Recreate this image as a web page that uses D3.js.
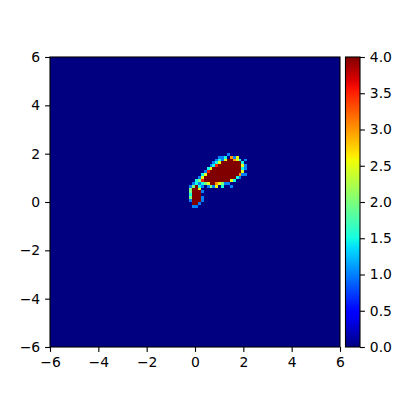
<!DOCTYPE html>
<html>
<head>
<meta charset="utf-8">
<script src="https://cdn.jsdelivr.net/npm/d3@7"></script>
<style>
  body { margin: 0; background: #fff; }
  text { font-family: "DejaVu Sans", sans-serif; fill: #000; }
</style>
</head>
<body>
<svg id="chart" width="400" height="400"></svg>
<script>
// histogram grid: 100 x 100 bins over [-6, 6]
const binCount = 100;
const extent = [-6, 6];
const ticks = [-6, -4, -2, 0, 2, 4, 6];
const cbarTicks = [0, 0.5, 1, 1.5, 2, 2.5, 3, 3.5, 4];
const vmax = 4;

// non-empty part of the grid
// first column bin index, first (top) row bin index, rows go downwards
const colStart = 47;
const rowTop = 66;
const rows = [
  [0,0,0,0,0,0,0,0,0,0,0,0,0,0,1,0,0,0,0,0,0],
  [0,0,0,0,0,0,0,0,0,0,0,1,1,1.5,0,3,1,2.5,0,0,0],
  [0,0,0,0,0,0,0,0,0,0,1,1.5,1,2.5,5,6,3,2.5,1.5,0,1],
  [0,0,0,0,0,0,0,0,0,1,1.5,2.5,4,6,7,8,7,6,4.5,1.5,0],
  [0,0,0,0,0,0,0,0,1,1.5,3.5,5,7,8,9,9,8,7,5,2.5,1],
  [0,0,0,0,0,0,0,1.5,2.5,4.5,6,8,9,9,9,9,8,7,5,1.5,1],
  [0,0,0,0,0,0,1,3.5,5,6,8,9,9,9,9,8,7,6,4.5,2.5,0],
  [0,0,0,0,0,1.5,2.5,5,6,7,8,8,9,8,8,7,6,5,3,1,1],
  [0,0,0,0,1,2.5,4,5,6,7,7,8,7,7,6,5,4.5,1.5,1,0,0],
  [0,0,0,1.5,2,3.5,4.5,5,5,6,6,5,5,4.5,4,2.5,1.5,0,0,0,0],
  [0,0,1,1.5,1,1.5,2,2.5,5,4,3,2.5,2,1,1,0,0,0,0,0,0],
  [0,1,2,5,1.5,1,0,1,2,1,2.5,0,1.5,0,0,1,0,0,0,0,0],
  [0,2,4.5,5,2.5,0,0,0,0,0,0,0,0,0,0,0,0,0,0,0,0],
  [0,2,5,6,4,1,0,0,0,0,0,0,0,0,0,0,0,0,0,0,0],
  [0,1.5,5,6,5,0,0,0,0,0,0,0,0,0,0,0,0,0,0,0,0],
  [0,2,6,5,4,1,0,0,0,0,0,0,0,0,0,0,0,0,0,0,0],
  [0,1,5,6,5,1,0,0,0,0,0,0,0,0,0,0,0,0,0,0,0],
  [0,0,4,5,1,0,0,0,0,0,0,0,0,0,0,0,0,0,0,0,0],
  [0,0,1,1,0,0,0,0,0,0,0,0,0,0,0,0,0,0,0,0,0]
];

// matplotlib "jet"
const jetR = d3.scaleLinear().domain([0, 0.35, 0.66, 0.89, 1]).range([0, 0, 1, 1, 0.5]).clamp(true);
const jetG = d3.scaleLinear().domain([0, 0.125, 0.375, 0.64, 0.91, 1]).range([0, 0, 1, 1, 0, 0]).clamp(true);
const jetB = d3.scaleLinear().domain([0, 0.11, 0.34, 0.65, 1]).range([0.5, 1, 1, 0, 0]).clamp(true);
function jet(t) {
  return d3.rgb(jetR(t) * 255, jetG(t) * 255, jetB(t) * 255).toString();
}
const color = v => jet(Math.min(v, vmax) / vmax);

// full grid of counts
const grid = [];
const binW = (extent[1] - extent[0]) / binCount;
for (let j = 0; j < binCount; j++) {
  for (let i = 0; i < binCount; i++) {
    grid.push({i: i, j: j, v: 0});
  }
}
rows.forEach((row, r) => {
  const j = rowTop - r;
  row.forEach((v, k) => {
    grid[j * binCount + colStart + k].v = v;
  });
});

const svg = d3.select('#chart');
const plotLeft = 50, plotRight = 340, plotTop = 57, plotBottom = 347;

const x = d3.scaleLinear().domain(extent).range([plotLeft, plotRight]);
const y = d3.scaleLinear().domain(extent).range([plotBottom, plotTop]);

svg.append('g')
  .attr('shape-rendering', 'crispEdges')
  .selectAll('rect')
  .data(grid)
  .join('rect')
  .attr('x', d => x(extent[0] + d.i * binW))
  .attr('y', d => y(extent[0] + (d.j + 1) * binW))
  .attr('width', d => x(extent[0] + (d.i + 1) * binW) - x(extent[0] + d.i * binW))
  .attr('height', d => y(extent[0] + d.j * binW) - y(extent[0] + (d.j + 1) * binW))
  .attr('fill', d => color(d.v));

function styleAxis(g) {
  g.select('.domain').remove();
  g.selectAll('line').attr('stroke', '#000').attr('stroke-width', 1.1);
  g.selectAll('text').style('font-size', '13.9px').style('font-family', '"DejaVu Sans", sans-serif');
}

const fmt = d => d3.format('d')(d).replace('-', '\u2212');

svg.append('g')
  .attr('transform', `translate(0,${plotBottom})`)
  .call(d3.axisBottom(x).tickValues(ticks).tickSize(4.9).tickPadding(4.9).tickFormat(fmt))
  .call(styleAxis);

svg.append('g')
  .attr('transform', `translate(${plotLeft},0)`)
  .call(d3.axisLeft(y).tickValues(ticks).tickSize(4.9).tickPadding(4.9).tickFormat(fmt))
  .call(styleAxis);

svg.append('rect')
  .attr('x', plotLeft).attr('y', plotTop)
  .attr('width', plotRight - plotLeft).attr('height', plotBottom - plotTop)
  .attr('fill', 'none').attr('stroke', '#000').attr('stroke-width', 1.1);

// colorbar
const cbLeft = 345.5, cbRight = 360;
const c = d3.scaleLinear().domain([0, vmax]).range([plotBottom, plotTop]);

const defs = svg.append('defs');
const grad = defs.append('linearGradient')
  .attr('id', 'jetgrad')
  .attr('x1', 0).attr('y1', 1).attr('x2', 0).attr('y2', 0);
grad.selectAll('stop')
  .data(d3.range(0, 1.0001, 0.02))
  .join('stop')
  .attr('offset', d => d)
  .attr('stop-color', d => jet(d));

svg.append('rect')
  .attr('x', cbLeft).attr('y', plotTop)
  .attr('width', cbRight - cbLeft).attr('height', plotBottom - plotTop)
  .attr('fill', 'url(#jetgrad)');

svg.append('g')
  .attr('transform', `translate(${cbRight},0)`)
  .call(d3.axisRight(c).tickValues(cbarTicks).tickSize(4.9).tickPadding(4.9).tickFormat(d3.format('.1f')))
  .call(styleAxis);

svg.append('rect')
  .attr('x', cbLeft).attr('y', plotTop)
  .attr('width', cbRight - cbLeft).attr('height', plotBottom - plotTop)
  .attr('fill', 'none').attr('stroke', '#000').attr('stroke-width', 1.1);
</script>
</body>
</html>
